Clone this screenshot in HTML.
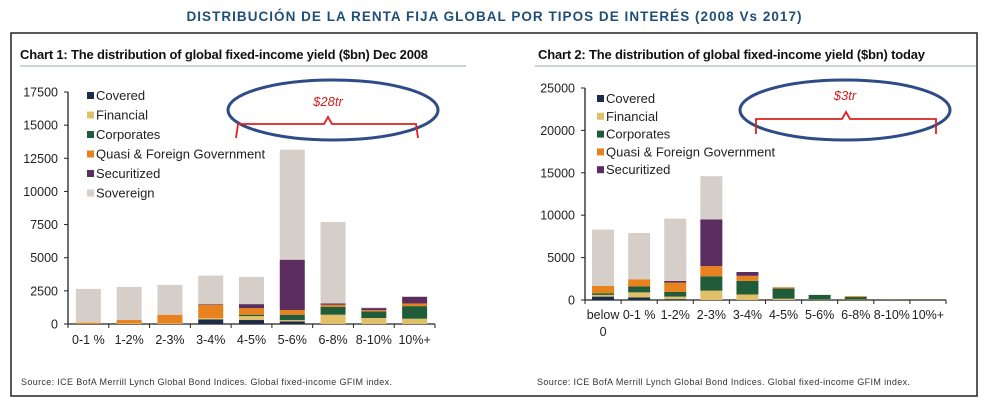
<!DOCTYPE html>
<html><head><meta charset="utf-8"><style>
body{margin:0;background:#fff;}
svg{display:block;font-family:"Liberation Sans",Arial,sans-serif;}
</style></head><body>
<svg id="s" width="989" height="416" viewBox="0 0 989 416">
<text x="494" y="21" text-anchor="middle" font-size="13.5" font-weight="bold" fill="#1f4e79" textLength="615">DISTRIBUCIÓN DE LA RENTA FIJA GLOBAL POR TIPOS DE INTERÉS (2008 Vs 2017)</text>
<rect x="11" y="33" width="966" height="363" fill="none" stroke="#222" stroke-width="1.5"/>
<text x="20" y="59" font-size="13" font-weight="bold" fill="#111" textLength="408">Chart 1: The distribution of global fixed-income yield ($bn) Dec 2008</text>
<line x1="20" y1="66" x2="466" y2="66" stroke="#9aa" stroke-width="1"/>
<text x="538" y="59" font-size="13" font-weight="bold" fill="#111" textLength="387">Chart 2: The distribution of global fixed-income yield ($bn) today</text>
<line x1="535" y1="66" x2="976" y2="66" stroke="#9aa" stroke-width="1"/>
<text x="21" y="385" font-size="9" fill="#333" textLength="371">Source: ICE BofA Merrill Lynch Global Bond Indices. Global fixed-income GFIM index.</text>
<text x="537" y="385" font-size="9" fill="#333" textLength="373">Source: ICE BofA Merrill Lynch Global Bond Indices. Global fixed-income GFIM index.</text>
<g id="c1"></g><g id="c2"></g>
<ellipse cx="333" cy="110" rx="105" ry="30" fill="none" stroke="#2e4d86" stroke-width="3"/>
<path d="M236 138 L238 124 L324 124 L328 117 L332 124 L416 124 L418 138" fill="none" stroke="#e02020" stroke-width="1.8"/>
<text x="328" y="106" text-anchor="middle" font-size="13" font-style="italic" fill="#d02020">$28tr</text>
<ellipse cx="845" cy="110" rx="105" ry="30" fill="none" stroke="#2e4d86" stroke-width="3"/>
<path d="M756 134 L756 119 L842 119 L846 112 L850 119 L936 119 L936 134" fill="none" stroke="#e02020" stroke-width="1.8"/>
<text x="845" y="100" text-anchor="middle" font-size="13" font-style="italic" fill="#d02020">$3tr</text>
</svg>
<script>
const seriesNames=["Covered","Financial","Corporates","Quasi & Foreign Government","Securitized","Sovereign"];
const colors=["#1b2d48","#e2c06a","#215c3a","#e8821e","#5a2d5e","#d6cec8"];
const cats1=["0-1 %","1-2%","2-3%","3-4%","4-5%","5-6%","6-8%","8-10%","10%+"];
const covered1=[0,0,0,350,300,200,0,0,0];
const financial1=[0,50,50,100,300,100,700,450,400];
const corporates1=[0,0,0,0,100,400,600,500,950];
const quasi1=[100,250,650,1000,500,350,150,100,200];
const securitized1=[0,0,0,50,300,3800,100,150,500];
const sovereign1=[2550,2500,2250,2150,2050,8300,6150,50,50];
const ticks1=[0,2500,5000,7500,10000,12500,15000,17500];
const cats2=["below 0","0-1 %","1-2%","2-3%","3-4%","4-5%","5-6%","6-8%","8-10%","10%+"];
const covered2=[400,300,100,0,0,0,0,0,0,0];
const financial2=[200,600,300,1100,650,150,50,50,20,20];
const corporates2=[200,700,550,1700,1600,1200,550,300,40,50];
const quasi2=[850,850,1100,1200,600,150,0,100,20,30];
const securitized2=[0,0,200,5500,450,0,0,0,0,0];
const sovereign2=[6650,5450,7350,5100,0,50,0,0,0,0];
const ticks2=[0,5000,10000,15000,20000,25000];
const NS="http://www.w3.org/2000/svg";
function mk(g,tag,a,t){const e=document.createElementNS(NS,tag);for(const k in a)e.setAttribute(k,a[k]);if(t!==undefined)e.textContent=t;g.appendChild(e);return e;}
function draw(gid,cfg){
  const g=document.getElementById(gid);
  const yv=v=>cfg.y0-(v/cfg.max)*(cfg.y0-cfg.yTop);
  const n=cfg.cats.length, bw=(cfg.xEnd-cfg.x0)/n;
  const xc=i=>cfg.x0+bw*(i+0.5);
  mk(g,"line",{x1:cfg.x0,y1:cfg.yTop,x2:cfg.x0,y2:cfg.y0,stroke:"#222","stroke-width":1.3});
  mk(g,"line",{x1:cfg.x0,y1:cfg.y0,x2:cfg.xEnd,y2:cfg.y0,stroke:"#222","stroke-width":1.3});
  cfg.ticks.forEach(t=>{
    mk(g,"line",{x1:cfg.x0-4,y1:yv(t),x2:cfg.x0,y2:yv(t),stroke:"#222"});
    const e=mk(g,"text",{x:cfg.x0-10,y:yv(t)+4.5,"text-anchor":"end","font-size":12.5,fill:"#222"},String(t));
    
    
  });
  for(let i=0;i<=n;i++)mk(g,"line",{x1:cfg.x0+bw*i,y1:cfg.y0,x2:cfg.x0+bw*i,y2:cfg.y0+4,stroke:"#222"});
  cfg.cats.forEach((c,i)=>{
    let acc=0;
    cfg.series.forEach((s,k)=>{
      const v=s[i]; if(v<=0)return;
      const r=mk(g,"rect",{x:xc(i)-cfg.barW/2,y:yv(acc+v),width:cfg.barW,height:yv(acc)-yv(acc+v),fill:colors[k]});
      
      
      acc+=v;
    });
    const parts=c==="below 0"?["below","0"]:[c];
    parts.forEach((p,j)=>{
      const t=mk(g,"text",{x:xc(i),y:cfg.y0+cfg.lblDy+j*17,"text-anchor":"middle","font-size":12.5,fill:"#222"},p);
      
      
    });
  });
  for(let k=0;k<cfg.legendN;k++){
    const y=cfg.legY+k*cfg.legStep;
    const r=mk(g,"rect",{x:cfg.legX,y:y-8,width:7,height:7,fill:colors[k]});
    
    
    const t=mk(g,"text",{x:cfg.legX+9,y:y,"font-size":13,fill:"#222"},seriesNames[k]);
    
    
  }
}
draw("c1",{cats:cats1,series:[covered1,financial1,corporates1,quasi1,securitized1,sovereign1],ticks:ticks1,max:17500,x0:68,xEnd:435,y0:324,yTop:92,barW:25,lblDy:20,legX:87,legY:100,legStep:19.5,legendN:6});
draw("c2",{cats:cats2,series:[covered2,financial2,corporates2,quasi2,securitized2,sovereign2],ticks:ticks2,max:25000,x0:585,xEnd:946,y0:300,yTop:88,barW:22,lblDy:19,legX:597,legY:103,legStep:17.8,legendN:5});
</script>
</body></html>
